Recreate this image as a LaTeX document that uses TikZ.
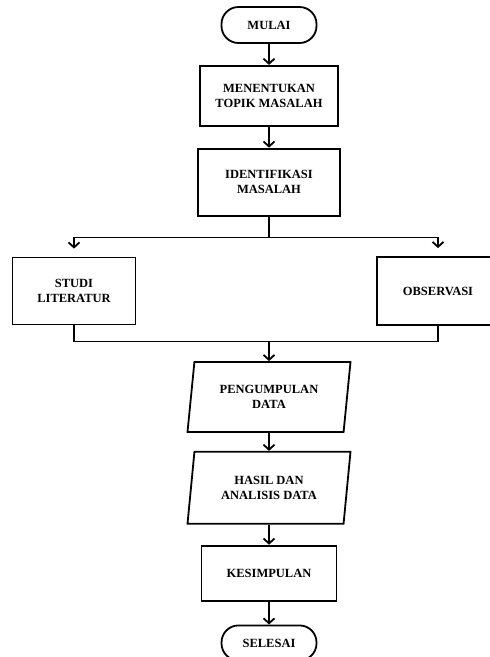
\documentclass[tikz,border=0pt]{standalone}
\usepackage{fontspec}
\setmainfont{Liberation Serif}
\usetikzlibrary{positioning,shapes.geometric,arrows.meta}

\begin{document}
\begin{tikzpicture}[x=1pt,y=1pt,line width=1.8pt,node distance=21pt,
   font=\fontsize{12.5}{15}\selectfont\bfseries,
   >={Straight Barb[length=5pt,width=11pt]},
   terminal/.style={draw,rounded corners=17pt,minimum width=95pt,minimum height=36pt},
   proses/.style={draw,align=center,minimum width=138pt,minimum height=60pt},
   data/.style={draw,trapezium,trapezium left angle=77,trapezium right angle=103,
      trapezium stretches body,align=center,minimum width=163pt,minimum height=70pt}]

  \useasboundingbox (0,0) rectangle (490,-657);

  \node[terminal](mulai) at (269,-25) {MULAI};
  \node[proses](topik) [below=of mulai] {MENENTUKAN\\TOPIK MASALAH};
  \node[proses,minimum width=142pt,minimum height=67pt](identifikasi) [below=of topik] {IDENTIFIKASI\\MASALAH};
  \node[proses,minimum width=123pt,minimum height=67pt](studi) at (74,-291) {STUDI\\LITERATUR};
  \node[proses,minimum width=122pt,minimum height=68pt](observasi) at (438,-291) {OBSERVASI};
  \node[data](pengumpulan) at (269,-397) {PENGUMPULAN\\DATA};
  \node[data,minimum height=72pt](hasil) [below=18pt of pengumpulan] {HASIL DAN\\ANALISIS DATA};
  \node[proses,minimum width=135pt,minimum height=55pt](kesimpulan) [below=20pt of hasil] {KESIMPULAN};
  \node[terminal,minimum height=35pt](selesai) [below=23pt of kesimpulan] {SELESAI};

  \foreach \from/\to in {mulai/topik,topik/identifikasi,pengumpulan/hasil,hasil/kesimpulan,kesimpulan/selesai}
    \draw[->] (\from) -- (\to);

  % cabang ke studi literatur dan observasi
  \draw (identifikasi.south) -- ++(0,-21) coordinate (cabang);
  \draw[->,shorten >=8pt] (cabang) -| (studi);
  \draw[->,shorten >=8pt] (cabang) -| (observasi);

  % gabung kembali
  \draw (studi.south) -- ++(0,-16) coordinate (gabung) -| (observasi.south);
  \draw[->] (gabung -| pengumpulan) -- (pengumpulan);
\end{tikzpicture}
\end{document}
